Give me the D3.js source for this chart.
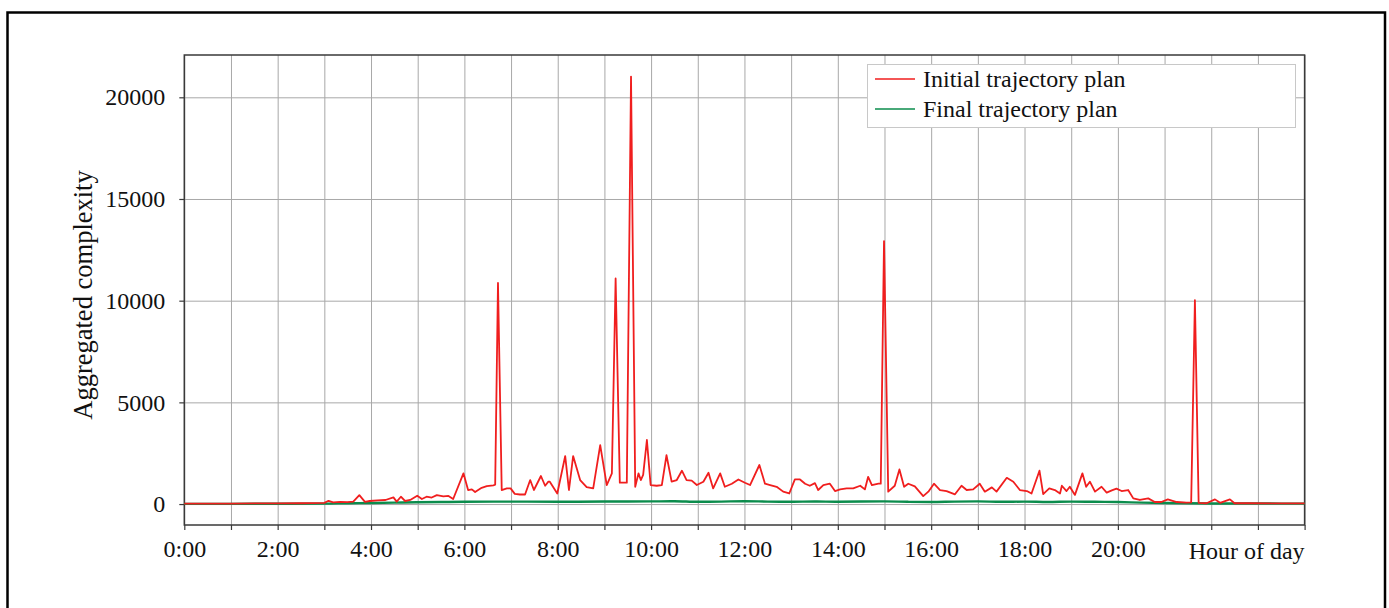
<!DOCTYPE html>
<html>
<head>
<meta charset="utf-8">
<script src="https://cdn.jsdelivr.net/npm/d3@7"></script>
<style>
  html, body { margin: 0; padding: 0; background: #fff; }
  svg { display: block; }
  text { font-family: "Liberation Serif", "Times New Roman", serif; fill: #111; }
</style>
</head>
<body>
<svg id="chart" width="1389" height="608"></svg>
<script>
// ---- data ----
const seriesNames = ["Initial trajectory plan", "Final trajectory plan"];
const xTickHours = d3.range(0, 25);           // one tick per hour
const xLabelHours = [0, 2, 4, 6, 8, 10, 12, 14, 16, 18, 20];
const yTickValues = [0, 5000, 10000, 15000, 20000];
const xAxisTitle = "Hour of day";
const yAxisTitle = "Aggregated complexity";

const initialHours = [
  0.0, 0.5, 1.0, 1.5, 2.0, 2.5, 3.0, 3.09, 3.19, 3.34, 3.49, 3.62, 3.75, 3.87, 3.97,
  4.14, 4.31, 4.48, 4.55, 4.64, 4.73, 4.84, 4.99, 5.09, 5.19, 5.30, 5.41, 5.55, 5.66, 5.76,
  5.98, 6.08, 6.16, 6.23, 6.37, 6.48, 6.62, 6.66, 6.72, 6.80, 6.91, 6.99, 7.08, 7.19, 7.30,
  7.41, 7.49, 7.64, 7.73, 7.80, 7.83, 7.99, 8.16, 8.24, 8.33, 8.48, 8.62, 8.76, 8.91, 9.05,
  9.16, 9.24, 9.33, 9.48, 9.57, 9.66, 9.73, 9.78, 9.83, 9.91, 9.99, 10.12, 10.23, 10.33, 10.44,
  10.55, 10.66, 10.76, 10.87, 10.98, 11.12, 11.23, 11.33, 11.48, 11.58, 11.73, 11.87, 12.01, 12.12, 12.32,
  12.44, 12.55, 12.69, 12.83, 12.96, 13.08, 13.19, 13.30, 13.40, 13.51, 13.58, 13.69, 13.83, 13.94, 14.05,
  14.19, 14.33, 14.48, 14.58, 14.65, 14.73, 14.87, 14.92, 14.99, 15.08, 15.22, 15.32, 15.42, 15.51, 15.65,
  15.83, 15.94, 16.06, 16.19, 16.33, 16.51, 16.65, 16.76, 16.90, 17.04, 17.15, 17.30, 17.40, 17.62, 17.76,
  17.90, 18.05, 18.15, 18.32, 18.40, 18.53, 18.65, 18.76, 18.80, 18.90, 18.97, 19.08, 19.24, 19.32, 19.40,
  19.51, 19.65, 19.76, 19.87, 19.97, 20.08, 20.22, 20.33, 20.47, 20.65, 20.79, 20.93, 21.07, 21.26, 21.47,
  21.57, 21.65, 21.73, 21.90, 22.08, 22.19, 22.40, 22.50, 22.83, 23.5, 24.0
];
const initialValues = [
  20, 20, 25, 30, 30, 40, 60, 160, 80, 110, 90, 120, 440, 110, 150,
  180, 200, 330, 120, 360, 150, 200, 410, 250, 360, 320, 440, 380, 400, 250,
  1510, 690, 720, 590, 800, 880, 920, 950, 10870, 690, 770, 770, 500, 470, 470,
  1180, 690, 1380, 900, 1100, 1100, 520, 2360, 690, 2360, 1180, 830, 770, 2900, 935,
  1510, 11090, 1050, 1050, 21020, 850, 1510, 1180, 1430, 3150, 935, 900, 935, 2400, 1100,
  1180, 1640, 1180, 1150, 935, 1100, 1540, 770, 1510, 850, 1000, 1210, 1050, 935, 1920,
  1000, 935, 850, 610, 520, 1210, 1210, 1000, 900, 1030, 690, 935, 1000, 640, 720,
  770, 770, 900, 720, 1340, 935, 1000, 1000, 12930, 610, 900, 1700, 850, 1000, 870,
  390, 610, 1000, 690, 640, 480, 900, 690, 720, 1000, 610, 820, 610, 1290, 1100,
  690, 640, 520, 1640, 490, 770, 690, 520, 900, 640, 850, 450, 1510, 850, 1100,
  610, 850, 560, 670, 760, 640, 690, 280, 200, 280, 100, 100, 230, 100, 70,
  80, 10030, 60, 40, 230, 60, 230, 40, 40, 30, 30
];

const finalHours = [
  0, 1, 2, 3, 3.5, 4, 4.5, 5, 5.5, 6, 7, 8, 9, 10, 10.5, 11, 11.5, 12, 12.5, 13,
  13.5, 14, 15, 15.5, 16, 16.5, 17, 17.5, 18, 18.5, 19, 19.5, 20, 20.5, 21, 22, 23, 24
];
const finalValues = [
  10, 10, 15, 20, 40, 50, 70, 90, 100, 110, 120, 110, 125, 130, 140, 110, 120, 140, 120, 110,
  125, 115, 130, 110, 100, 120, 130, 110, 120, 100, 120, 110, 100, 70, 50, 30, 25, 20
];

const seriesColors = ["#f01e1e", "#0b8c4c"];

// ---- layout ----
const svg = d3.select("#chart");
const plot = { left: 184.3, right: 1304.6, top: 55, bottom: 525 };
const tickFont = 24;

// outer frame
svg.append("rect")
  .attr("x", 7.5).attr("y", 12.5)
  .attr("width", 1385 - 7.5).attr("height", 640)
  .attr("fill", "none").attr("stroke", "#000").attr("stroke-width", 2.5);

const x = d3.scaleLinear().domain([0, 24]).range([plot.left, plot.right]);
const y = d3.scaleLinear().domain([-1030, 22080]).range([plot.bottom, plot.top]);

// grid lines
const grid = svg.append("g").attr("class", "grid");
grid.append("g")
  .attr("transform", `translate(0,${plot.bottom})`)
  .call(d3.axisBottom(x).tickValues(xTickHours).tickSize(-(plot.bottom - plot.top)).tickFormat(""))
  .call(g => g.select(".domain").remove())
  .call(g => g.selectAll("line").attr("stroke", "#a8a8a8").attr("stroke-width", 1));
grid.append("g")
  .attr("transform", `translate(${plot.left},0)`)
  .call(d3.axisLeft(y).tickValues(yTickValues).tickSize(-(plot.right - plot.left)).tickFormat(""))
  .call(g => g.select(".domain").remove())
  .call(g => g.selectAll("line").attr("stroke", "#a8a8a8").attr("stroke-width", 1));

// plot frame
svg.append("rect")
  .attr("x", plot.left).attr("y", plot.top)
  .attr("width", plot.right - plot.left).attr("height", plot.bottom - plot.top)
  .attr("fill", "none").attr("stroke", "#3a3a3a").attr("stroke-width", 1.5);

// axes
const xAxis = svg.append("g")
  .attr("transform", `translate(0,${plot.bottom})`)
  .call(d3.axisBottom(x).tickValues(xTickHours).tickSize(5).tickPadding(10)
    .tickFormat(h => xLabelHours.includes(h) ? `${h}:00` : ""));
xAxis.select(".domain").remove();
xAxis.selectAll("line").attr("stroke", "#3a3a3a").attr("stroke-width", 1.2);
xAxis.selectAll("text").attr("font-size", tickFont).attr("font-family", "Liberation Serif").attr("fill", "#111");

const yAxis = svg.append("g")
  .attr("transform", `translate(${plot.left},0)`)
  .call(d3.axisLeft(y).tickValues(yTickValues).tickSize(5).tickPadding(14).tickFormat(d3.format("d")));
yAxis.select(".domain").remove();
yAxis.selectAll("line").attr("stroke", "#3a3a3a").attr("stroke-width", 1.2);
yAxis.selectAll("text").attr("font-size", tickFont).attr("font-family", "Liberation Serif").attr("fill", "#111");

svg.append("text")
  .attr("x", plot.right).attr("y", 559)
  .attr("text-anchor", "end").attr("font-size", tickFont)
  .text(xAxisTitle);

svg.append("text")
  .attr("transform", `translate(92,${(plot.top + plot.bottom) / 2 + 5}) rotate(-90)`)
  .attr("text-anchor", "middle").attr("font-size", 26.5)
  .text(yAxisTitle);

// lines
const line = d3.line().x(d => x(d[0])).y(d => y(d[1]));
const finalData = finalHours.map((h, i) => [h, finalValues[i]]);
const initialData = initialHours.map((h, i) => [h, initialValues[i]]);

svg.append("path").datum(finalData)
  .attr("d", d3.line().curve(d3.curveMonotoneX).x(d => x(d[0])).y(d => y(d[1])))
  .attr("fill", "none").attr("stroke", seriesColors[1]).attr("stroke-width", 2.4);

svg.append("path").datum(initialData)
  .attr("d", line)
  .attr("fill", "none").attr("stroke", seriesColors[0]).attr("stroke-width", 1.8)
  .attr("stroke-linejoin", "round");

// legend
const lg = svg.append("g");
lg.append("rect")
  .attr("x", 867.5).attr("y", 64.5).attr("width", 428).attr("height", 63)
  .attr("fill", "#fff").attr("stroke", "#c8c8c8").attr("stroke-width", 1);
seriesNames.forEach((name, i) => {
  const yy = 79 + i * 30;
  lg.append("line")
    .attr("x1", 875).attr("x2", 915).attr("y1", yy).attr("y2", yy)
    .attr("stroke", seriesColors[i]).attr("stroke-width", 1.6);
  lg.append("text")
    .attr("x", 923).attr("y", yy + 8)
    .attr("font-size", tickFont)
    .text(name);
});
</script>
</body>
</html>
